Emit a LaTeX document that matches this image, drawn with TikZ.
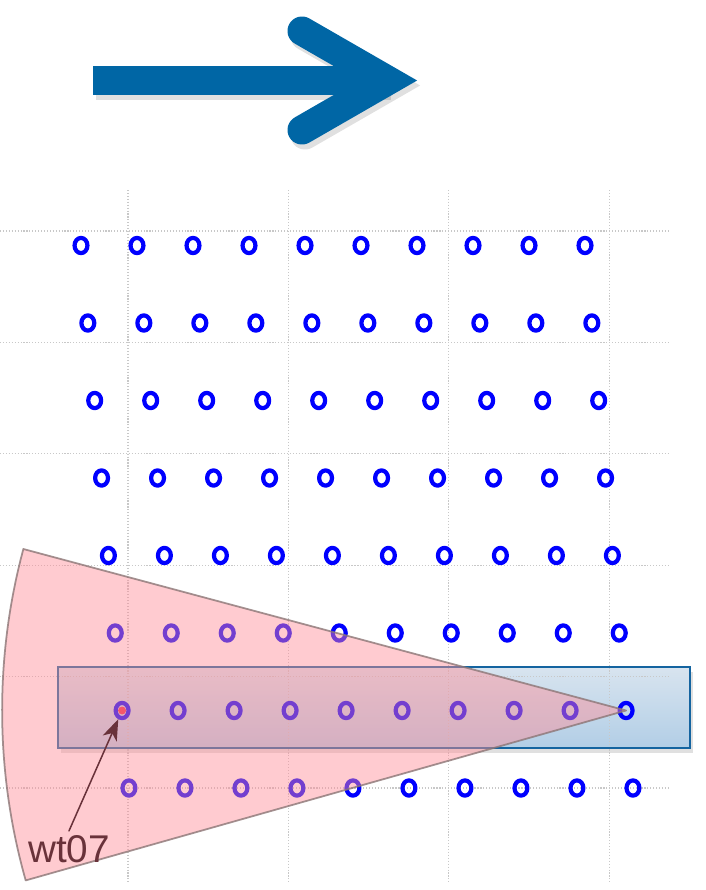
\documentclass[tikz,border=0pt]{standalone}
\usepackage{fontspec}
\newfontfamily\wtfont{Liberation Sans}
\usetikzlibrary{arrows.meta,shapes.geometric}
\definecolor{arrowblue}{RGB}{0,102,165}
\definecolor{dotblue}{RGB}{0,0,255}
\definecolor{gridgray}{RGB}{200,200,200}
\definecolor{wedgepink}{RGB}{255,140,150}
\definecolor{wedgeline}{RGB}{140,118,118}
\definecolor{rowtop}{RGB}{216,228,239}
\definecolor{rowbottom}{RGB}{178,206,230}
\definecolor{rowline}{RGB}{20,100,160}
\definecolor{wtbrown}{RGB}{105,50,58}
\definecolor{wtred}{RGB}{235,45,70}
\tikzset{
  turbine/.style={ellipse,draw=dotblue,line width=3.6pt,minimum width=11pt,minimum height=13pt,inner sep=0pt},
  gridline/.style={gridgray,line width=1pt,line cap=butt,dash pattern=on 1pt off 1.5pt},
  wake/.style={fill=wedgepink,fill opacity=0.45,draw=wedgeline,draw opacity=0.8,line width=1.5pt}
}
\begin{document}
\begin{tikzpicture}[x=0.03cm,y=-0.03cm,line join=round,line cap=round,>={Stealth[length=18pt,width=13pt,inset=5pt]}]
\useasboundingbox (0,0) rectangle (706,890);
\fill[black,opacity=0.12] (96,71) rectangle (391,100);
\draw[black,opacity=0.12,line width=24.8pt,line join=miter] (305,36) -- (391,85.5) -- (305,135);
\fill[arrowblue] (93,66) rectangle (388,95);
\draw[arrowblue,line width=24.8pt,line join=miter] (302,31) -- (388,80.5) -- (302,130);
\fill[black,opacity=0.12] (61,672) rectangle (693,753);
\shade[top color=rowtop,bottom color=rowbottom] (58,667) rectangle (690,748);
\foreach \i in {0,...,3}
  \draw[gridline] ({128+160.4*\i},190) -- ({128+160.4*\i},882);
\foreach \j in {0,...,5}
  \draw[gridline] (0,{231+111.4*\j}) -- (668,{231+111.4*\j});
\draw[rowline,line width=2.5pt,line join=miter] (58,667) rectangle (690,748);
\foreach \r in {1,...,8}
  \foreach \c in {1,...,10}
    \node[turbine] (d\r-\c) at ({81+6.85*(\r-1)+56*(\c-1)},{245.5+77.5*(\r-1)}) {};
\fill[wtred] (d7-1.center) circle[radius=4];
\filldraw[wake] (d7-10.center) -- ++(164.2:624) arc[start angle=164.2,end angle=195,radius=624] -- cycle;
\node[text=wtbrown,font=\wtfont\fontsize{33}{36}\selectfont,anchor=base] (wt07) at (69,862) {wt07};
\draw[->,wtbrown,line width=1.3pt] (wt07.north) -- (d7-1);
\end{tikzpicture}
\end{document}
